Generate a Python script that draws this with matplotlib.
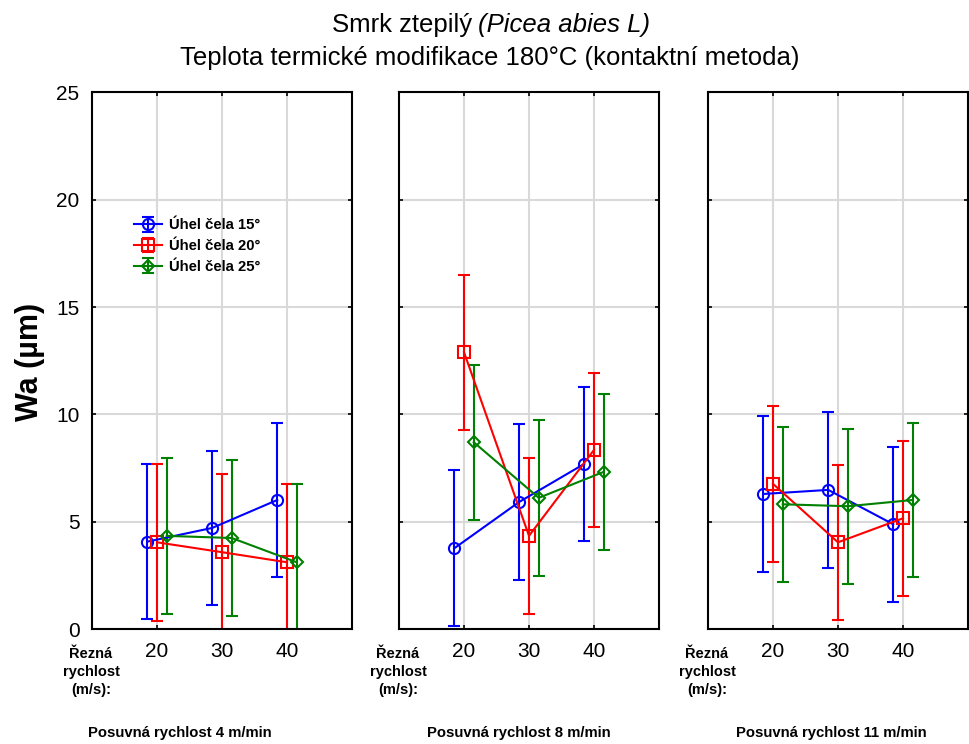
import matplotlib.pyplot as plt
import numpy as np

plt.rcParams['font.family'] = ['Liberation Sans', 'DejaVu Sans']

# rezna rychlost (m/s)
speeds = [20, 30, 40]
feeds = ["Posuvná rychlost 4 m/min", "Posuvná rychlost 8 m/min", "Posuvná rychlost 11 m/min"]
labels = ["Úhel čela 15°", "Úhel čela 20°", "Úhel čela 25°"]

# mean Wa per panel (4, 8, 11 m/min)
wa_15 = [[4.08, 4.72, 6.02], [3.77, 5.93, 7.70], [6.30, 6.49, 4.89]]
wa_20 = [[4.05, 3.59, 3.12], [12.90, 4.35, 8.35], [6.77, 4.05, 5.17]]
wa_25 = [[4.35, 4.25, 3.12], [8.71, 6.12, 7.33], [5.82, 5.73, 6.02]]

# half width of the interval
err_15 = [[3.62, 3.60, 3.60], [3.63, 3.62, 3.60], [3.64, 3.62, 3.62]]
err_20 = [[3.65, 3.65, 3.65], [3.60, 3.62, 3.60], [3.62, 3.62, 3.60]]
err_25 = [[3.64, 3.63, 3.65], [3.60, 3.62, 3.62], [3.60, 3.61, 3.60]]

series = [
    (wa_15, err_15, "blue", "o", -1.5, 8, "none"),
    (wa_20, err_20, "red", "s", 0.0, 8, "none"),
    (wa_25, err_25, "green", "D", 1.5, 6, "none"),
]

W, H = 969, 744
fig = plt.figure(figsize=(W / 100, H / 100), dpi=100)

lefts = [92, 399, 708]
feed_x = [180, 519, 831]
ax_w = 260
ax_bottom = 629.3
ax_top = 92.3

for k in range(3):
    ax = fig.add_axes([lefts[k] / W, 1 - ax_bottom / H, ax_w / W, (ax_bottom - ax_top) / H])
    for vals, errs, col, mk, off, ms, fc in series:
        x = np.array(speeds) + off
        ax.errorbar(x, vals[k], yerr=errs[k], color=col, marker=mk, markersize=ms,
                    markerfacecolor=fc, markeredgewidth=1.5, lw=1.5, elinewidth=1.5,
                    capsize=4, capthick=1.5)
    ax.set_xlim(10, 50)
    ax.set_ylim(0, 25)
    ax.set_xticks(speeds)
    ax.set_yticks([0, 5, 10, 15, 20, 25])
    ax.grid(True, color="#d9d9d9", lw=1.5)
    ax.set_axisbelow(True)
    for s in ax.spines.values():
        s.set_linewidth(1.5)
    ax.tick_params(direction="in", length=3, width=1.2, top=True, right=True,
                   labelsize=15, pad=9)
    if k > 0:
        ax.set_yticklabels([])
    fig.text((lefts[k] - 1) / W, 1 - 672 / H, "Řezná\nrychlost\n(m/s):", ha="center",
             va="center", fontsize=10.5, fontweight="bold", linespacing=1.38)
    fig.text(feed_x[k] / W, 1 - 733 / H, feeds[k], ha="center", va="center",
             fontsize=10.7, fontweight="bold")
    if k == 0:
        ax.legend(labels, loc="upper left", bbox_to_anchor=(0.11, 0.79), frameon=False,
                  prop={"weight": "bold", "size": 10.7}, handlelength=1.9,
                  handletextpad=0.45, labelspacing=0.45)

fig.text(30 / W, 1 - 362 / H, "Wa (µm)", rotation=90, ha="center", va="center",
         fontsize=22, fontweight="bold")
fig.text(472 / W, 1 - 25 / H, "Smrk ztepilý", ha="right", va="center", fontsize=18.5)
fig.text(478 / W, 1 - 25 / H, "(Picea abies L)", ha="left", va="center", fontsize=18.5,
         style="italic")
fig.text(490 / W, 1 - 58 / H, "Teplota termické modifikace 180°C (kontaktní metoda)",
         ha="center", va="center", fontsize=18.5)

fig.savefig("out.png", dpi=100)
